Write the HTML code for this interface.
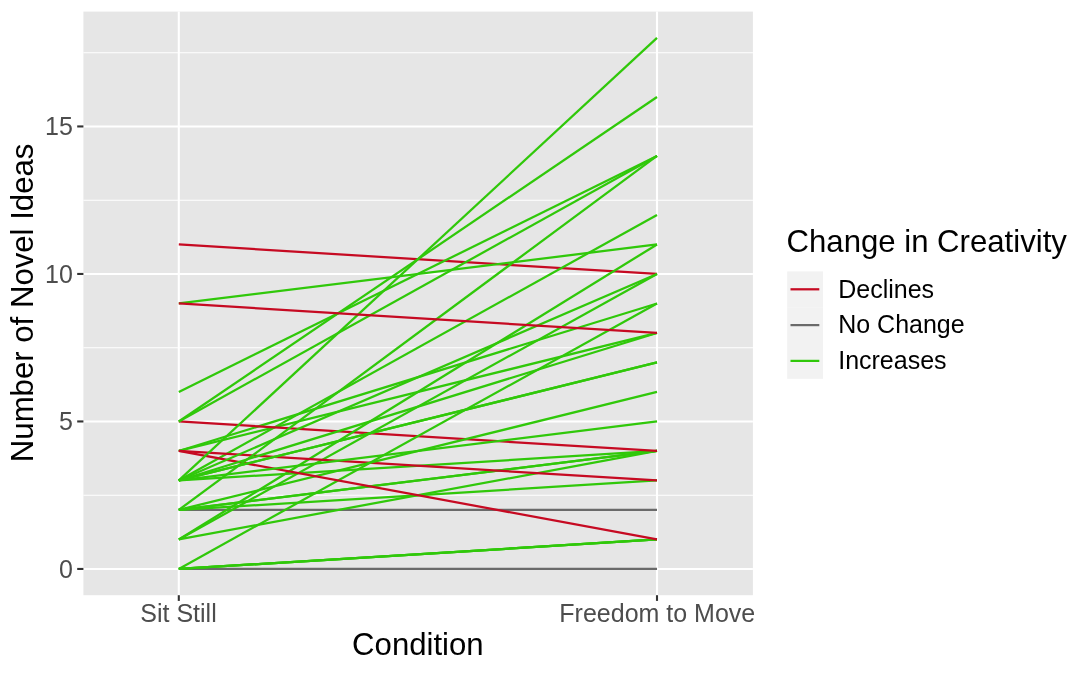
<!DOCTYPE html>
<html><head><meta charset="utf-8"><title>Change in Creativity</title>
<style>
html,body{margin:0;padding:0;background:#fff;}
body{width:1090px;height:673px;overflow:hidden;font-family:"Liberation Sans",sans-serif;}
svg{display:block;position:absolute;left:0;top:0;}
text{font-family:"Liberation Sans",sans-serif;}
.tick{font-size:25.0px;fill:#4D4D4D;}
.title{font-size:31.15px;fill:#000;}
.leg{font-size:25.0px;fill:#000;}
</style></head><body>
<svg width="1090" height="673" viewBox="0 0 1090 673">
<rect x="0" y="0" width="1090" height="673" fill="#fff"/>
<rect x="83.4" y="11.6" width="669.50" height="583.60" fill="#E6E6E6"/>
<g stroke="#fff" stroke-width="1.05" fill="none">
<line x1="83.4" x2="752.9" y1="495.20" y2="495.20"/>
<line x1="83.4" x2="752.9" y1="347.70" y2="347.70"/>
<line x1="83.4" x2="752.9" y1="200.20" y2="200.20"/>
<line x1="83.4" x2="752.9" y1="52.70" y2="52.70"/>
</g>
<g stroke="#fff" stroke-width="2.1" fill="none">
<line x1="83.4" x2="752.9" y1="568.95" y2="568.95"/>
<line x1="83.4" x2="752.9" y1="421.45" y2="421.45"/>
<line x1="83.4" x2="752.9" y1="273.95" y2="273.95"/>
<line x1="83.4" x2="752.9" y1="126.45" y2="126.45"/>
<line x1="178.8" x2="178.8" y1="11.6" y2="595.2"/>
<line x1="657.0" x2="657.0" y1="11.6" y2="595.2"/>
</g>
<g stroke-width="2.25" fill="none" stroke-linecap="butt">
<line x1="178.8" y1="509.95" x2="657.0" y2="509.95" stroke="#6A6A6A"/>
<line x1="178.8" y1="568.95" x2="657.0" y2="568.95" stroke="#6A6A6A"/>
<line x1="178.8" y1="244.45" x2="657.0" y2="273.95" stroke="#C60A22"/>
<line x1="178.8" y1="450.95" x2="657.0" y2="303.45" stroke="#30C80A"/>
<line x1="178.8" y1="450.95" x2="657.0" y2="332.95" stroke="#30C80A"/>
<line x1="178.8" y1="480.45" x2="657.0" y2="214.95" stroke="#30C80A"/>
<line x1="178.8" y1="480.45" x2="657.0" y2="450.95" stroke="#30C80A"/>
<line x1="178.8" y1="509.95" x2="657.0" y2="450.95" stroke="#30C80A"/>
<line x1="178.8" y1="509.95" x2="657.0" y2="450.95" stroke="#30C80A"/>
<line x1="178.8" y1="539.45" x2="657.0" y2="450.95" stroke="#30C80A"/>
<line x1="178.8" y1="421.45" x2="657.0" y2="450.95" stroke="#C60A22"/>
<line x1="178.8" y1="539.45" x2="657.0" y2="244.45" stroke="#30C80A"/>
<line x1="178.8" y1="539.45" x2="657.0" y2="273.95" stroke="#30C80A"/>
<line x1="178.8" y1="509.95" x2="657.0" y2="480.45" stroke="#30C80A"/>
<line x1="178.8" y1="450.95" x2="657.0" y2="480.45" stroke="#C60A22"/>
<line x1="178.8" y1="568.95" x2="657.0" y2="303.45" stroke="#30C80A"/>
<line x1="178.8" y1="509.95" x2="657.0" y2="391.95" stroke="#30C80A"/>
<line x1="178.8" y1="568.95" x2="657.0" y2="539.45" stroke="#30C80A"/>
<line x1="178.8" y1="568.95" x2="657.0" y2="539.45" stroke="#30C80A"/>
<line x1="178.8" y1="568.95" x2="657.0" y2="539.45" stroke="#30C80A"/>
<line x1="178.8" y1="450.95" x2="657.0" y2="539.45" stroke="#C60A22"/>
<line x1="178.8" y1="480.45" x2="657.0" y2="37.95" stroke="#30C80A"/>
<line x1="178.8" y1="421.45" x2="657.0" y2="96.95" stroke="#30C80A"/>
<line x1="178.8" y1="391.95" x2="657.0" y2="155.95" stroke="#30C80A"/>
<line x1="178.8" y1="421.45" x2="657.0" y2="155.95" stroke="#30C80A"/>
<line x1="178.8" y1="509.95" x2="657.0" y2="155.95" stroke="#30C80A"/>
<line x1="178.8" y1="303.45" x2="657.0" y2="244.45" stroke="#30C80A"/>
<line x1="178.8" y1="480.45" x2="657.0" y2="273.95" stroke="#30C80A"/>
<line x1="178.8" y1="480.45" x2="657.0" y2="332.95" stroke="#30C80A"/>
<line x1="178.8" y1="480.45" x2="657.0" y2="362.45" stroke="#30C80A"/>
<line x1="178.8" y1="480.45" x2="657.0" y2="362.45" stroke="#30C80A"/>
<line x1="178.8" y1="480.45" x2="657.0" y2="421.45" stroke="#30C80A"/>
<line x1="178.8" y1="303.45" x2="657.0" y2="332.95" stroke="#C60A22"/>
</g>
<g stroke="#333" stroke-width="2.1">
<line x1="77.2" x2="83.4" y1="568.95" y2="568.95"/>
<line x1="77.2" x2="83.4" y1="421.45" y2="421.45"/>
<line x1="77.2" x2="83.4" y1="273.95" y2="273.95"/>
<line x1="77.2" x2="83.4" y1="126.45" y2="126.45"/>
<line x1="178.8" x2="178.8" y1="595.2" y2="600.9"/>
<line x1="657.0" x2="657.0" y1="595.2" y2="600.9"/>
</g>
<text class="tick" transform="translate(72.90,577.65) scale(1.0000,1)" text-anchor="end">0</text>
<text class="tick" transform="translate(72.90,430.15) scale(1.0000,1)" text-anchor="end">5</text>
<text class="tick" transform="translate(72.90,282.65) scale(1.0000,1)" text-anchor="end">10</text>
<text class="tick" transform="translate(72.90,135.15) scale(1.0000,1)" text-anchor="end">15</text>
<text class="tick" transform="translate(178.50,622.30) scale(1.0000,1)" text-anchor="middle">Sit Still</text>
<text class="tick" transform="translate(657.30,622.30) scale(1.0000,1)" text-anchor="middle">Freedom to Move</text>
<text class="title" transform="translate(417.85,654.90) scale(1.0000,1)" text-anchor="middle">Condition</text>
<text class="title" transform="translate(32.70,302.90) rotate(-90) scale(1.0000,1)" text-anchor="middle">Number of Novel Ideas</text>
<text class="title" transform="translate(786.50,252.00) scale(1.0000,1)" text-anchor="start">Change in Creativity</text>
<rect x="787.2" y="271.40" width="35.8" height="35.8" fill="#F2F2F2"/>
<line x1="790.50" x2="819.30" y1="289.30" y2="289.30" stroke="#C60A22" stroke-width="2.25"/>
<text class="leg" transform="translate(838.20,297.60) scale(1.0000,1)" text-anchor="start">Declines</text>
<rect x="787.2" y="307.20" width="35.8" height="35.8" fill="#F2F2F2"/>
<line x1="790.50" x2="819.30" y1="325.10" y2="325.10" stroke="#6A6A6A" stroke-width="2.25"/>
<text class="leg" transform="translate(838.20,333.40) scale(1.0000,1)" text-anchor="start">No Change</text>
<rect x="787.2" y="343.00" width="35.8" height="35.8" fill="#F2F2F2"/>
<line x1="790.50" x2="819.30" y1="360.90" y2="360.90" stroke="#30C80A" stroke-width="2.25"/>
<text class="leg" transform="translate(838.20,369.20) scale(1.0000,1)" text-anchor="start">Increases</text>
</svg>
</body></html>
